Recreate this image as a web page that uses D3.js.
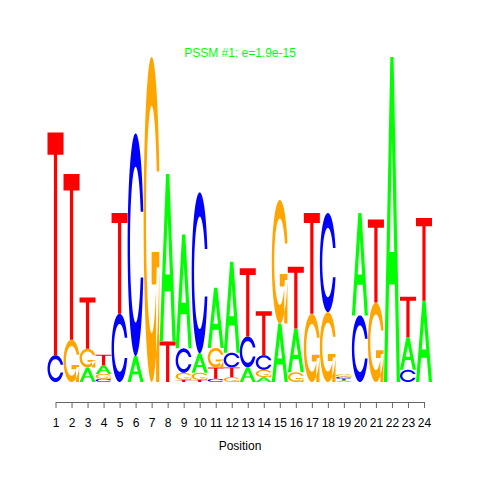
<!DOCTYPE html>
<html>
<head>
<meta charset="UTF-8">
<script src="https://d3js.org/d3.v7.min.js"></script>
<style>
  body { margin: 0; background: #fff; }
  svg { font-family: "Liberation Sans", Arial, sans-serif; }
</style>
</head>
<body>
<svg id="logo" width="480" height="480"></svg>
<script>
  // position labels
  const positions = [1, 2, 3, 4, 5, 6, 7, 8, 9, 10, 11, 12, 13, 14, 15, 16, 17, 18, 19, 20, 21, 22, 23, 24];

  // letter heights (bits) per position
  const bitsA = [0, 0, 0.09, 0.055, 0, 0.16, 0, 1.03, 0.70, 0.12, 0.37, 0.56, 0.09, 0.03, 0.36, 0.27, 0, 0, 0.009, 0.63, 0, 2.0, 0.20, 0.50];
  const bitsC = [0.165, 0, 0, 0.02, 0.42, 1.37, 0, 0, 0.15, 0.99, 0.02, 0.09, 0.19, 0.09, 0, 0, 0, 0.61, 0.013, 0.41, 0, 0, 0.075, 0];
  const bitsG = [0, 0.26, 0.115, 0.03, 0, 0, 2.0, 0, 0.045, 0.045, 0.12, 0.03, 0, 0.045, 0.76, 0.06, 0.42, 0.43, 0.016, 0, 0.49, 0, 0, 0];
  const bitsT = [1.37, 1.02, 0.315, 0.062, 0.62, 0, 0, 0.25, 0.012, 0.012, 0.07, 0.06, 0.42, 0.27, 0, 0.38, 0.62, 0, 0.01, 0, 0.51, 0, 0.25, 0.51];

  const title = 'PSSM #1; e=1.9e-15';
  const xLabel = 'Position';
  const colors = { A: '#00ff00', C: '#0000ff', G: '#ffa500', T: '#ff0000' };

  const svg = d3.select('#logo');

  const x = d3.scaleLinear().domain([0.5, 24.5]).range([47.5, 432]);
  const y = d3.scaleLinear().domain([0, 2]).range([382, 57]);

  // letter outlines in a unit box (y up), seqLogo style
  function arcPts(r, a0, a1, n) {
    const pts = [];
    for (let i = 0; i < n; i++) {
      const a = a0 + (a1 - a0) * i / (n - 1);
      pts.push([0.5 + r * Math.sin(a), 0.5 + r * Math.cos(a)]);
    }
    return pts;
  }

  function shapeC() {
    const o1 = arcPts(0.5, 0.3 + Math.PI / 2, Math.PI, 40);
    const o2 = arcPts(0.5, Math.PI, 1.5 * Math.PI, 40);
    const outer = o1.concat(o2);
    const outerFull = outer.concat(outer.slice().reverse().map(p => [p[0], 1 - p[1]]));
    const maxY = d3.max(o1, p => p[1]);
    let i1 = arcPts(0.35, 0.3 + Math.PI / 2, Math.PI, 40).filter(p => p[1] <= maxY);
    i1 = [[0.5 + Math.sqrt(Math.max(0, 0.35 * 0.35 - (maxY - 0.5) * (maxY - 0.5))), maxY]].concat(i1);
    const i2 = arcPts(0.35, Math.PI, 1.5 * Math.PI, 40);
    const inner = i1.concat(i2);
    const innerFull = inner.concat(inner.slice().reverse().map(p => [p[0], 1 - p[1]]));
    return { polys: [outerFull.concat(innerFull.slice().reverse())], r1: d3.max(o1, p => p[0]) };
  }

  function letterPolys(ch) {
    if (ch === 'A') {
      return [
        [[0, 0], [0.4, 1], [0.6, 1], [1, 0], [0.8, 0], [0.68, 0.3], [0.32, 0.3], [0.2, 0]],
        [[0.36, 0.4], [0.5, 0.75], [0.64, 0.4]]
      ];
    }
    if (ch === 'T') {
      return [[[0, 1], [1, 1], [1, 0.9], [0.6, 0.9], [0.6, 0], [0.4, 0], [0.4, 0.9], [0, 0.9]]];
    }
    const c = shapeC();
    if (ch === 'C') return c.polys;
    const r1 = c.r1, h1 = 0.4;
    const bar = [[r1, h1], [0.5, h1], [0.5, h1 - 0.1], [r1 - 0.2, h1 - 0.1], [r1 - 0.2, 0], [r1, 0]];
    return c.polys.concat([bar]);
  }

  function letterPath(ch, x0, y0, w, h) {
    return letterPolys(ch).map(poly =>
      'M' + poly.map(p => [x0 + p[0] * w, y0 - p[1] * h].map(v => v.toFixed(2)).join(',')).join('L') + 'Z'
    ).join('');
  }

  // stack letters per position, smallest at the bottom
  const stacks = positions.map((pos, i) => {
    const col = [['A', bitsA[i]], ['C', bitsC[i]], ['G', bitsG[i]], ['T', bitsT[i]]]
      .filter(d => d[1] > 0)
      .sort((a, b) => a[1] - b[1]);
    let base = 0;
    return col.map(d => {
      const item = { pos: pos, ch: d[0], y0: base, y1: base + d[1] };
      base += d[1];
      return item;
    });
  });

  svg.append('g')
    .selectAll('path')
    .data(stacks.flat())
    .join('path')
    .attr('d', d => {
      const x0 = x(d.pos - 0.5), w = x(d.pos + 0.5) - x0;
      return letterPath(d.ch, x0, y(d.y0), w, y(d.y0) - y(d.y1));
    })
    .attr('fill', d => colors[d.ch])
    .attr('fill-rule', 'evenodd');

  // x axis
  const xAxis = d3.scaleLinear().domain([1, 24]).range([x(1), x(24)]);
  const axisG = svg.append('g')
    .attr('transform', 'translate(0,402)')
    .call(d3.axisBottom(xAxis).tickValues(positions).tickFormat(d3.format('d'))
      .tickSize(6).tickSizeOuter(0).tickPadding(10));
  axisG.select('.domain').attr('stroke', '#666');
  axisG.selectAll('.tick line').attr('stroke', '#666');
  axisG.selectAll('.tick text').attr('font-size', 12).attr('fill', '#000')
    .attr('font-family', '"Liberation Sans", Arial, sans-serif');

  svg.append('text')
    .attr('x', 240).attr('y', 450)
    .attr('text-anchor', 'middle')
    .attr('font-size', 12)
    .text(xLabel);

  svg.append('text')
    .attr('x', 240).attr('y', 57)
    .attr('text-anchor', 'middle')
    .attr('font-size', 12)
    .attr('fill', '#00ff00')
    .text(title);
</script>
</body>
</html>
